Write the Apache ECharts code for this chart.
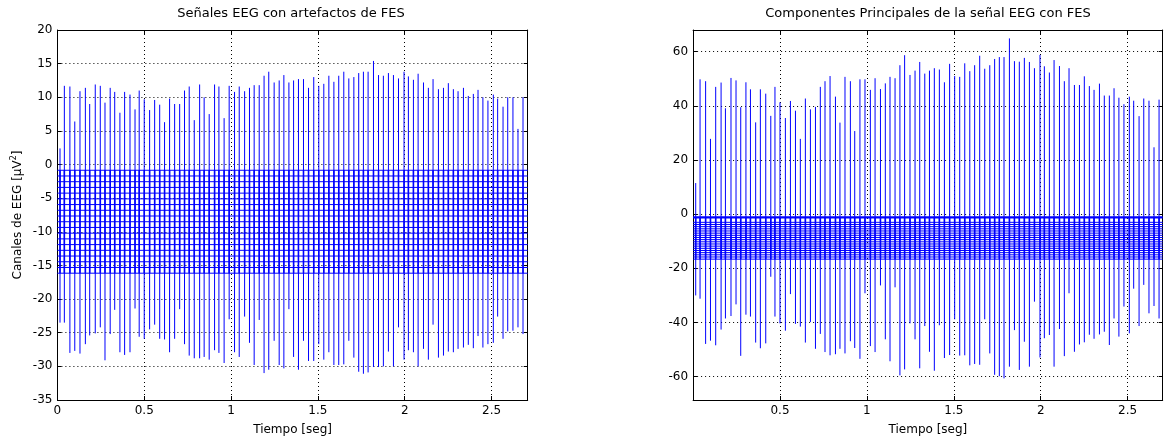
<!DOCTYPE html>
<html>
<head>
<meta charset="utf-8">
<script src="https://cdn.jsdelivr.net/npm/echarts@6/dist/echarts.min.js"></script>
<style>
  html, body { margin: 0; padding: 0; background: #fff; }
  #chart { width: 1165px; height: 441px; }
</style>
</head>
<body>
<div id="chart"></div>
<script>
// Stimulation pulse instants (s), one per FES artefact
const spikeTimes = [
  0.015,0.040,0.072,0.100,0.130,0.161,0.186,0.218,0.247,0.274,
  0.304,0.330,0.360,0.387,0.418,0.447,0.471,0.500,0.531,0.560,
  0.589,0.617,0.646,0.675,0.704,0.732,0.759,0.788,0.819,0.845,
  0.874,0.905,0.930,0.960,0.989,1.020,1.047,1.078,1.106,1.133,
  1.162,1.190,1.217,1.248,1.277,1.304,1.333,1.360,1.388,1.417,
  1.446,1.476,1.505,1.534,1.563,1.592,1.620,1.649,1.678,1.707,
  1.735,1.762,1.789,1.820,1.849,1.877,1.906,1.935,1.964,1.996,
  2.021,2.050,2.077,2.108,2.136,2.163,2.194,2.223,2.251,2.280,
  2.307,2.338,2.366,2.395,2.422,2.450,2.479,2.510,2.535,2.566,
  2.593,2.623,2.652,2.681
];

// EEG channels: artefact peak (max over channels) and trough (min over channels)
const eegHigh = [
  2.4,11.7,11.6,6.4,10.9,11.4,9.0,11.9,11.7,9.2,
  11.4,10.8,7.7,10.8,10.4,8.2,11.0,9.7,8.1,9.6,
  8.9,6.3,9.8,9.0,9.0,11.0,11.6,6.6,11.9,10.0,
  7.5,11.9,11.6,6.9,11.7,10.8,11.6,10.9,11.4,11.8,
  11.8,13.2,13.8,12.2,12.5,13.3,12.2,12.5,12.7,12.7,
  11.4,13.0,11.7,12.0,13.2,12.3,13.2,13.8,12.8,13.0,
  13.6,13.8,13.8,15.4,13.3,13.2,13.6,13.3,12.8,13.8,
  13.1,12.6,13.5,12.2,11.4,12.7,11.2,11.4,12.1,11.2,
  10.9,11.4,10.2,10.5,11.1,10.0,9.5,10.4,9.8,8.6,
  10.0,10.0,5.3,10.0
];
const eegLow = [
  -23.5,-23.5,-28.0,-27.7,-28.1,-26.7,-25.4,-25.1,-24.2,-29.1,
  -25.2,-21.6,-27.9,-28.3,-27.9,-21.4,-25.6,-25.9,-24.5,-23.8,
  -25.9,-26.0,-27.9,-25.9,-21.5,-26.7,-28.4,-28.8,-28.8,-28.6,
  -29.0,-27.6,-28.0,-29.5,-23.0,-27.9,-28.6,-22.6,-26.5,-29.8,
  -23.1,-31.0,-30.5,-26.2,-29.8,-30.3,-21.5,-28.6,-30.5,-26.2,
  -29.2,-29.2,-26.7,-29.0,-27.9,-29.8,-29.8,-29.7,-26.2,-28.7,
  -30.8,-31.1,-30.9,-30.1,-30.1,-30.0,-27.8,-30.0,-24.2,-29.0,
  -27.6,-27.9,-30.0,-27.4,-29.0,-23.8,-28.7,-28.4,-27.8,-27.9,
  -27.4,-27.2,-26.8,-27.3,-25.5,-27.2,-26.7,-26.5,-22.6,-25.9,
  -24.8,-24.7,-24.2,-25.2
];

// First principal component: artefact peaks and troughs
const pcaHigh = [
  11.5,49.8,49.1,27.8,47.0,48.6,39.1,50.3,49.4,39.5,
  48.7,46.1,33.9,46.1,44.5,36.3,47.0,41.3,35.5,41.8,
  38.2,27.8,42.7,38.7,39.6,47.0,49.1,51.0,43.4,33.8,
  50.7,49.1,30.7,49.8,49.8,45.9,50.2,46.2,48.3,50.7,
  50.2,55.0,58.7,51.4,53.0,56.2,51.9,53.0,53.9,53.4,
  48.7,55.5,51.0,50.7,55.7,52.8,55.0,58.5,53.7,55.0,
  57.3,58.0,58.0,64.9,56.5,56.3,57.7,56.2,53.9,58.8,
  54.6,52.3,56.9,54.7,49.1,53.9,47.7,47.7,50.9,47.3,
  45.9,48.2,43.8,43.8,46.5,43.0,40.6,43.4,41.9,36.2,
  42.7,41.9,24.7,42.3
];
const pcaLow = [
  -30.0,-31.2,-47.9,-46.7,-48.4,-42.6,-38.5,-37.6,-33.3,-52.3,
  -37.1,-37.8,-47.4,-49.5,-47.7,-23.1,-37.8,-40.3,-43.0,-29.5,
  -40.5,-41.5,-47.4,-39.8,-49.7,-44.2,-50.9,-52.1,-51.7,-49.7,
  -51.4,-46.9,-49.4,-53.4,-29.2,-48.7,-50.9,-26.3,-46.2,-54.3,
  -27.0,-59.5,-57.3,-40.3,-46.2,-56.9,-41.3,-50.8,-57.8,-41.0,
  -53.1,-52.0,-38.8,-52.2,-52.1,-55.8,-55.3,-55.6,-38.8,-51.4,
  -59.3,-59.8,-60.6,-56.3,-42.8,-57.5,-47.1,-56.3,-32.3,-52.9,
  -45.8,-44.6,-56.3,-42.4,-52.4,-29.2,-50.8,-48.1,-47.3,-44.5,
  -46.0,-44.4,-43.4,-48.3,-38.5,-45.2,-34.1,-44.0,-27.5,-41.3,
  -26.1,-36.6,-33.9,-38.5
];

// Vertical offsets of the stacked traces
const eegOffsets = [
  -0.85,-1.70,-2.55,-3.40,-4.25,-5.10,-5.95,-6.80,-7.65,-8.50,
  -9.35,-10.20,-11.05,-11.90,-12.75,-13.60,-14.45,-15.30,-16.15
];
const pcaOffsets = [
  -1.2,-3.0,-3.8,-4.6,-5.4,-6.2,-7.0,-7.8,-8.6,-9.4,
  -10.2,-11.0,-11.8,-12.6,-13.4,-14.2,-15.0,-15.8,-16.6
];

const eegTimeEnd = 2.708;
const pcaTimeEnd = 2.702;

const FONT = 'DejaVu Sans, Arial, sans-serif';
const BLUE = '#0000ff';

const chart = echarts.init(document.getElementById('chart'), null, { renderer: 'canvas' });

// Vertical segment drawn from value(1) down to value(2) at time value(0)
function segmentRenderer(width, color) {
  return function (params, api) {
    const t = api.value(0);
    const a = api.coord([t, api.value(1)]);
    const b = api.coord([t, api.value(2)]);
    return {
      type: 'line',
      shape: { x1: a[0], y1: a[1], x2: b[0], y2: b[1] },
      style: { stroke: color, lineWidth: width }
    };
  };
}

const gridLine = { show: true, lineStyle: { color: '#000', width: 1, type: [1, 3] } };
const tickIn = { show: true, inside: true, length: 4, lineStyle: { color: '#000' } };
const axisLine = { show: true, onZero: false, lineStyle: { color: '#000', width: 1 } };
const labelStyle = { color: '#000', fontSize: 12, fontFamily: FONT };

function xAxes(gridIndex, min, max, hideMin) {
  return [
    {
      type: 'value', gridIndex, position: 'bottom', min, max, interval: 0.5,
      axisLine, axisTick: tickIn, splitLine: gridLine,
      axisLabel: Object.assign({ margin: 5, showMaxLabel: false, showMinLabel: !hideMin }, labelStyle),
      name: 'Tiempo [seg]', nameLocation: 'middle', nameGap: 24,
      nameTextStyle: { color: '#000', fontSize: 12, fontFamily: FONT }
    },
    {
      type: 'value', gridIndex, position: 'top', min, max, interval: 0.5,
      axisLine, axisTick: tickIn, splitLine: { show: false }, axisLabel: { show: false }
    }
  ];
}

const yLeft = [
  {
    type: 'value', gridIndex: 0, position: 'left', min: -35, max: 20, interval: 5,
    axisLine, axisTick: tickIn, splitLine: gridLine,
    axisLabel: Object.assign({ margin: 5 }, labelStyle),
    name: '{t|Canales de EEG [μV}{s|2}{t|]}', nameLocation: 'middle', nameGap: 33,
    nameTextStyle: {
      rich: {
        t: { color: '#000', fontSize: 12, fontFamily: FONT },
        s: { color: '#000', fontSize: 8, fontFamily: FONT, verticalAlign: 'top', padding: [0, 0, 6, 0] }
      }
    }
  },
  {
    type: 'value', gridIndex: 0, position: 'right', min: -35, max: 20, interval: 5,
    axisLine, axisTick: tickIn, splitLine: { show: false }, axisLabel: { show: false }
  }
];
const yRight = [
  {
    type: 'value', gridIndex: 1, position: 'left', min: -68.6, max: 68, splitNumber: 7,
    axisLine, axisTick: tickIn, splitLine: gridLine,
    axisLabel: Object.assign({ margin: 5, showMinLabel: false, showMaxLabel: false }, labelStyle)
  },
  {
    type: 'value', gridIndex: 1, position: 'right', min: -68.6, max: 68, splitNumber: 7,
    axisLine, axisTick: tickIn, splitLine: { show: false }, axisLabel: { show: false }
  }
];

const series = [];

// Stacked EEG channel traces
eegOffsets.forEach(function (off) {
  series.push({
    type: 'line', xAxisIndex: 0, yAxisIndex: 0, silent: true,
    data: [[0, off], [eegTimeEnd, off]], symbol: 'none',
    lineStyle: { color: BLUE, width: 1 }, z: 2
  });
});
// Artefact excursions over the channels
series.push({
  type: 'custom', xAxisIndex: 0, yAxisIndex: 0, silent: true, clip: true, z: 3,
  renderItem: segmentRenderer(1, BLUE),
  data: spikeTimes.map(function (t, i) { return [t, eegHigh[i], eegLow[i]]; })
});
series.push({
  type: 'custom', xAxisIndex: 0, yAxisIndex: 0, silent: true, clip: true, z: 4,
  renderItem: segmentRenderer(1.6, BLUE),
  data: spikeTimes.map(function (t) { return [t, eegOffsets[0], eegOffsets[eegOffsets.length - 1]]; })
});

// Principal component traces
pcaOffsets.forEach(function (off, k) {
  series.push({
    type: 'line', xAxisIndex: 2, yAxisIndex: 2, silent: true,
    data: [[0, off], [pcaTimeEnd, off]], symbol: 'none',
    lineStyle: { color: BLUE, width: k === 0 ? 2.2 : 1 }, z: 2
  });
});
series.push({
  type: 'custom', xAxisIndex: 2, yAxisIndex: 2, silent: true, clip: true, z: 3,
  renderItem: segmentRenderer(1, BLUE),
  data: spikeTimes.map(function (t, i) { return [t, pcaHigh[i], pcaLow[i]]; })
});
series.push({
  type: 'custom', xAxisIndex: 2, yAxisIndex: 2, silent: true, clip: true, z: 4,
  renderItem: segmentRenderer(1.6, BLUE),
  data: spikeTimes.map(function (t) { return [t, pcaOffsets[0], pcaOffsets[pcaOffsets.length - 1]]; })
});

chart.setOption({
  animation: false,
  backgroundColor: '#fff',
  grid: [
    { left: 57.4, right: 637.3, top: 30, bottom: 41, containLabel: false },
    { left: 693.1, right: 2.3, top: 30, bottom: 41, containLabel: false }
  ],
  xAxis: xAxes(0, 0, eegTimeEnd, false).concat(xAxes(1, 0, pcaTimeEnd, true)),
  yAxis: yLeft.concat(yRight),
  graphic: [
    {
      type: 'text', x: 291, y: 14, silent: true,
      style: { text: 'Señales EEG con artefactos de FES', fill: '#000', font: '13px ' + FONT, textAlign: 'center', textVerticalAlign: 'middle' }
    },
    {
      type: 'text', x: 928, y: 14, silent: true,
      style: { text: 'Componentes Principales de la señal EEG con FES', fill: '#000', font: '13px ' + FONT, textAlign: 'center', textVerticalAlign: 'middle' }
    }
  ],
  series: series
});
</script>
</body>
</html>
